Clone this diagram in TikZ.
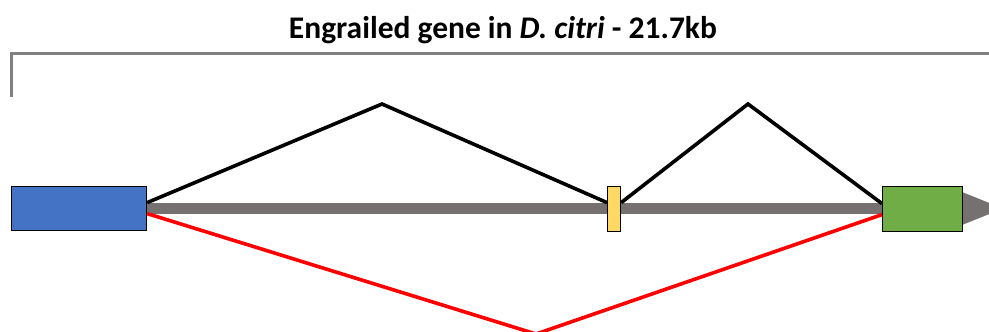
\documentclass[tikz,border=0pt]{standalone}
\usepackage{fontspec}
\setmainfont{Carlito}
\begin{document}
\begin{tikzpicture}[x=1pt,y=-1pt,
  exon/.style={draw=black, line width=1.2pt, anchor=north west, inner sep=0pt},
  intronline/.style={line width=3.6pt, line join=miter},
  altline/.style={red, line width=3.6pt},
  bracketline/.style={draw=gray, line width=3pt}]
\definecolor{bar}{HTML}{767171}
\definecolor{exblue}{HTML}{4472C4}
\definecolor{exgreen}{HTML}{70AD47}
\definecolor{exyellow}{HTML}{FFD966}
\useasboundingbox (0,0) rectangle (989,332);
\begin{scope}
\clip (0,0) rectangle (989,332);
% title
\node (title) at (503,30) {\fontsize{31.5}{36}\selectfont\bfseries Engrailed gene in \textit{D. citri} - 21.7kb};
% span bracket
\coordinate (bl) at (11,97);
\coordinate (tl) at (11,53);
\coordinate (tr) at (995,53);
\draw[bracketline] (bl) -- (tl) -- (tr);
% gene backbone with arrow head
\coordinate (barstart) at (146,208.5);
\coordinate (barend) at (964,208.5);
\draw[bar, line width=11pt] (barstart) -- (barend);
\fill[bar] (962,192) -- (1003,208.5) -- (962,225) -- cycle;
% exons
\node[exon, fill=exblue, minimum width=135pt, minimum height=44pt] (e1) at (11,186) {};
\node[exon, fill=exyellow, minimum width=13pt, minimum height=45pt] (e2) at (607,186) {};
\node[exon, fill=exgreen, minimum width=80pt, minimum height=45pt] (e3) at (882,186) {};
% splice junctions
\coordinate (p1) at (382,104);
\coordinate (p2) at (748,104);
\coordinate (p3) at (536,334);
\draw[intronline] ([yshift=6pt]e1.east) -- (p1) -- ([yshift=6.5pt]e2.west);
\draw[intronline] ([yshift=6.5pt]e2.east) -- (p2) -- ([yshift=5.5pt]e3.west);
\draw[altline] ([yshift=-5pt]e1.east) -- (p3) -- ([yshift=-5.5pt]e3.west);
\end{scope}
\end{tikzpicture}
\end{document}
